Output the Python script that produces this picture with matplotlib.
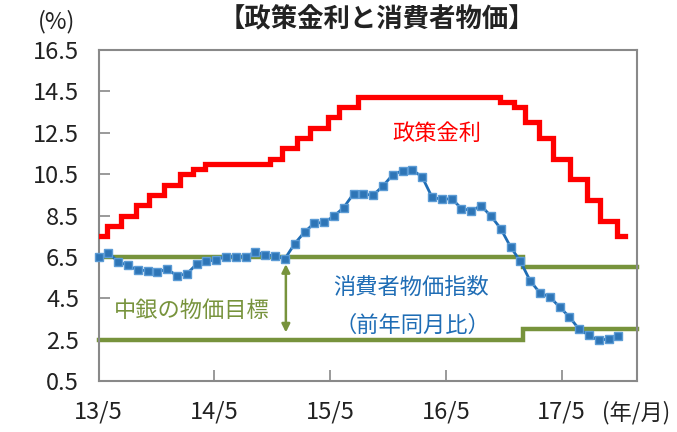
import numpy as np
import matplotlib.pyplot as plt

plt.rcParams['font.family'] = ['Noto Sans CJK JP', 'DejaVu Sans']

# 消費者物価指数（前年同月比, %）13/5 - 17/10 の月次
cpi = [6.50, 6.70, 6.27, 6.09, 5.86, 5.84, 5.77, 5.91,
       5.59, 5.68, 6.15, 6.28, 6.37, 6.52, 6.50, 6.51, 6.75, 6.59, 6.56, 6.41,
       7.14, 7.70, 8.13, 8.17, 8.47, 8.89, 9.56, 9.53, 9.49, 9.93, 10.48, 10.67,
       10.71, 10.36, 9.39, 9.28, 9.32, 8.84, 8.74, 8.97, 8.48, 7.87, 6.99, 6.29,
       5.35, 4.76, 4.57, 4.08, 3.60, 3.00, 2.71, 2.46, 2.54, 2.70]
months = np.arange(len(cpi))

# 政策金利: 変更時点（13/5 からの月数）と水準
rate_change = [0.86, 2.29, 3.79, 5.14, 6.65, 8.31, 9.63, 10.86, 17.49, 18.71,
               20.24, 21.57, 23.41, 24.53, 26.47, 40.88, 42.31, 43.51, 44.94,
               46.37, 48.10, 49.84, 51.16, 52.9]
rate_level = [7.5, 8.0, 8.5, 9.0, 9.5, 10.0, 10.5, 10.75, 11.0, 11.25, 11.75,
              12.25, 12.75, 13.25, 13.75, 14.25, 14.0, 13.75, 13.0, 12.25,
              11.25, 10.25, 9.25, 8.25, 7.5]
rate_end = 53.7

# 中銀の物価目標レンジ
target_change = 43.3
target_upper = [6.5, 6.0]
target_lower = [2.5, 3.0]

xlabels = ['13/5', '14/5', '15/5', '16/5', '17/5']
xtick_pos = [0, 11.8, 23.6, 35.4, 47.2]
xmax = 54.9

red = '#ff0000'
blue = '#1f6db5'
green = '#77933c'
grey = '#898989'

fig = plt.figure(figsize=(6.77, 4.32), dpi=100)
ax = fig.add_axes([0.1455, 0.118, 0.7955, 0.766])

# 目標レンジ
ax.step([0, target_change, xmax], target_upper + [target_upper[-1]], where='post',
        color=green, lw=3.2, solid_joinstyle='miter', zorder=2, clip_on=False)
ax.step([0, target_change, xmax], target_lower + [target_lower[-1]], where='post',
        color=green, lw=3.2, solid_joinstyle='miter', zorder=2, clip_on=False)

# 政策金利
rx = [0] + rate_change + [rate_end]
ry = rate_level + [rate_level[-1]]
ax.step(rx, ry, where='post', color=red, lw=3.8, solid_joinstyle='miter', zorder=3)

# 消費者物価
ax.plot(months, cpi, color=blue, lw=2, marker='s', ms=5.5,
        markerfacecolor='#2e75b6', markeredgecolor='#5b9bd5', markeredgewidth=1,
        zorder=4, clip_on=False)

ax.annotate('', xy=(19.1, 6.15), xytext=(19.1, 2.85),
            arrowprops=dict(arrowstyle='<|-|>', color=green, lw=1.8,
                            mutation_scale=12, shrinkA=0, shrinkB=0))

ax.text(34.5, 12.45, '政策金利', color=red, fontsize=16, ha='center', va='center')
ax.text(31.9, 5.0, '消費者物価指数', color=blue, fontsize=16, ha='center', va='center')
ax.text(32.0, 3.2, '（前年同月比）', color=blue, fontsize=16, ha='center', va='center')
ax.text(9.5, 3.9, '中銀の物価目標', color=green, fontsize=16, ha='center', va='center')

ax.set_xlim(0, xmax)
ax.set_ylim(0.5, 16.5)
ax.set_yticks(np.arange(0.5, 16.6, 2.0))
ax.set_yticklabels([f'{v:.1f}' for v in np.arange(0.5, 16.6, 2.0)])
ax.set_xticks(xtick_pos)
ax.set_xticklabels(xlabels)
ax.tick_params(axis='both', direction='in', length=8, width=1.2, color=grey,
               labelsize=17, labelcolor='#222222')
ax.tick_params(axis='y', pad=14)
ax.tick_params(axis='x', pad=14)
for s in ax.spines.values():
    s.set_color(grey)
    s.set_linewidth(1.5)

fig.text(0.556, 0.955, '【政策金利と消費者物価】', fontsize=19, fontweight='bold',
         ha='center', va='center', color='#222222')
fig.text(0.083, 0.95, '(%)', fontsize=17, ha='center', va='center', color='#222222')
fig.text(0.94, 0.044, '(年/月)', fontsize=16, ha='center', va='center', color='#222222')

fig.savefig('out.png', dpi=100)
